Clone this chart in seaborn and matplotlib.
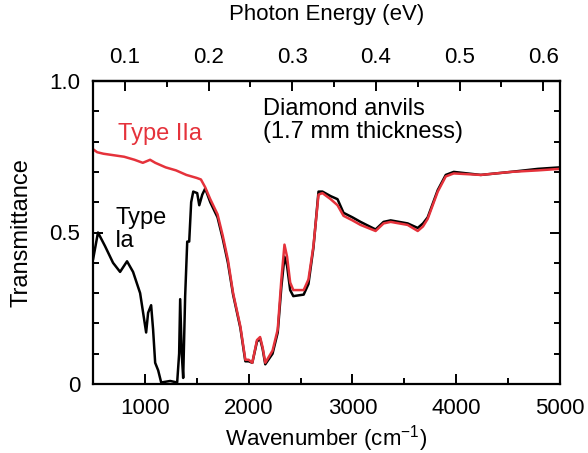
import numpy as np
import pandas as pd
import matplotlib
matplotlib.use("Agg")
import matplotlib.pyplot as plt
import seaborn as sns
from matplotlib.ticker import MultipleLocator, FuncFormatter

# Type IIa (red)
wn_IIa = [500, 540, 600, 700, 800, 900, 980, 1050, 1100, 1200, 1300, 1400, 1500, 1540, 1580,
          1630, 1700, 1750, 1800, 1850, 1920, 1968, 2000, 2035, 2080, 2110, 2135, 2160, 2230,
          2280, 2315, 2345, 2370, 2400, 2430, 2530, 2576, 2624, 2673, 2711, 2790, 2856, 2914,
          3000, 3078, 3223, 3300, 3368, 3532, 3629, 3680, 3725, 3822, 3899, 3976, 4237, 4527,
          4787, 5000]
tr_IIa = [0.775, 0.765, 0.76, 0.755, 0.75, 0.74, 0.73, 0.74, 0.73, 0.715, 0.705, 0.69, 0.68, 0.675, 0.65,
          0.61, 0.56, 0.49, 0.41, 0.30, 0.19, 0.08, 0.08, 0.07, 0.145, 0.155, 0.12, 0.07, 0.11,
          0.18, 0.345, 0.46, 0.42, 0.335, 0.31, 0.31, 0.345, 0.455, 0.625, 0.63, 0.61, 0.59, 0.555,
          0.54, 0.525, 0.505, 0.53, 0.535, 0.525, 0.505, 0.52, 0.545, 0.635, 0.685, 0.695, 0.69, 0.70,
          0.705, 0.71]

# Type Ia (black)
wn_Ia = [500, 548, 616, 693, 761, 828, 886, 954, 983, 1012, 1031, 1060, 1079, 1099, 1128, 1157,
         1244, 1311, 1330, 1340, 1355, 1369, 1388, 1408, 1427, 1446, 1466, 1504, 1524, 1553, 1581,
         1630, 1700, 1750, 1800, 1850, 1920, 1968, 2000, 2035, 2080, 2110, 2135, 2160, 2230,
         2280, 2315, 2345, 2370, 2400, 2430, 2530, 2576, 2624, 2673, 2711, 2790, 2856, 2914,
         3000, 3078, 3223, 3300, 3368, 3532, 3629, 3680, 3725, 3822, 3899, 3976, 4237, 4527,
         4787, 5000]
tr_Ia = [0.41, 0.50, 0.455, 0.40, 0.37, 0.405, 0.37, 0.30, 0.235, 0.17, 0.235, 0.26, 0.18, 0.07, 0.045, 0.005,
         0.01, 0.005, 0.10, 0.28, 0.10, 0.02, 0.29, 0.47, 0.47, 0.60, 0.635, 0.63, 0.59, 0.625, 0.645,
         0.60, 0.55, 0.48, 0.40, 0.295, 0.185, 0.075, 0.075, 0.07, 0.14, 0.15, 0.115, 0.065, 0.10,
         0.17, 0.32, 0.42, 0.39, 0.31, 0.29, 0.295, 0.33, 0.45, 0.635, 0.635, 0.62, 0.61, 0.565,
         0.55, 0.535, 0.51, 0.535, 0.54, 0.53, 0.515, 0.53, 0.55, 0.64, 0.69, 0.70, 0.69, 0.70,
         0.71, 0.715]

ev_ticks = [0.1, 0.2, 0.3, 0.4, 0.5, 0.6]
wn_ticks = [1000, 2000, 3000, 4000, 5000]
y_ticks = [0, 0.5, 1.0]

df = pd.concat([
    pd.DataFrame({"wn": wn_Ia, "T": tr_Ia, "type": "Ia"}),
    pd.DataFrame({"wn": wn_IIa, "T": tr_IIa, "type": "IIa"}),
])

sns.set_style("ticks")
plt.rcParams["font.family"] = ["Liberation Sans", "DejaVu Sans"]
plt.rcParams.update({
    "axes.linewidth": 1.6,
    "axes.edgecolor": "black",
    "axes.labelcolor": "black",
    "text.color": "black",
    "xtick.color": "black",
    "ytick.color": "black",
})

fig = plt.figure(figsize=(5.88, 4.53), dpi=100)
ax = fig.add_axes([93/588, 1-384/453, (560-93)/588, (384-81)/453])

red = "#e5323b"
sns.lineplot(data=df, x="wn", y="T", hue="type", palette={"Ia": "black", "IIa": red},
             hue_order=["Ia", "IIa"], linewidth=1.8, legend=False, ax=ax, sort=False,
             estimator=None)

FS_TICK = 16
FS_LAB = 16
FS_ANN = 17

ax.set_xlim(500, 5000)
ax.set_ylim(0, 1.0)
ax.set_xticks(wn_ticks)
ax.xaxis.set_minor_locator(MultipleLocator(500))
ax.set_yticks(y_ticks)
ax.yaxis.set_minor_locator(MultipleLocator(0.1))
ax.yaxis.set_major_formatter(FuncFormatter(lambda v, p: "0" if v == 0 else f"{v:.1f}"))
ax.tick_params(which="both", direction="in", right=True, labelsize=FS_TICK, width=1.4)
ax.tick_params(which="major", length=7)
ax.tick_params(which="minor", length=4)
ax.tick_params(axis="x", pad=10)
ax.tick_params(axis="y", pad=9)
ax.set_xlabel("Wavenumber (cm$^{\\mathregular{-1}}$)", fontsize=FS_LAB, labelpad=3)
ax.set_ylabel("Transmittance", fontsize=17, labelpad=12)

k = 8065.54
sec = ax.secondary_xaxis("top", functions=(lambda w: w / k, lambda e: e * k))
sec.set_xticks(ev_ticks)
sec.xaxis.set_minor_locator(MultipleLocator(0.05))
sec.tick_params(which="both", direction="in", labelsize=FS_TICK, width=1.4, pad=9)
sec.tick_params(which="major", length=7)
sec.tick_params(which="minor", length=4)
sec.set_xlabel("Photon Energy (eV)", fontsize=FS_LAB, labelpad=20)

ax.text(741, 0.825, "Type IIa", color=red, fontsize=FS_ANN, va="center")
ax.text(2142, 0.87, "Diamond anvils\n(1.7 mm thickness)", color="black", fontsize=FS_ANN,
        linespacing=1.05, va="center")
ax.text(712, 0.51, "Type\nIa", color="black", fontsize=FS_ANN, linespacing=1.05, va="center")

fig.savefig("out.png", dpi=100)
